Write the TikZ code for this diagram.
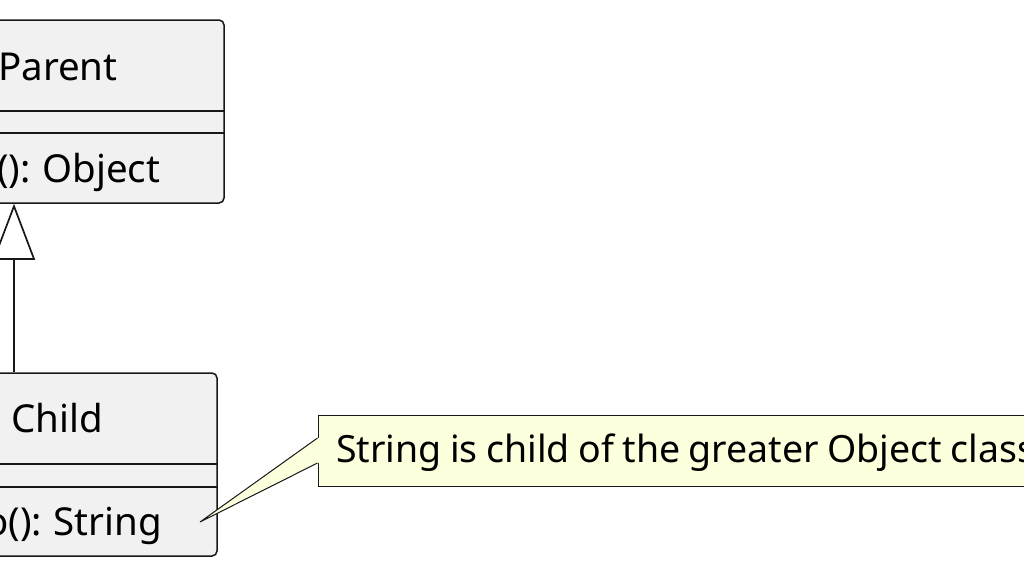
\documentclass[tikz,border=0pt]{standalone}
\usepackage{fontspec}
\setmainfont{Noto Sans}
\usetikzlibrary{arrows.meta,positioning,calc}
\definecolor{classfill}{HTML}{F1F1F1}
\definecolor{umlline}{HTML}{181818}
\definecolor{notefill}{HTML}{FEFFDD}

\begin{document}
\begin{tikzpicture}[x=1pt,y=-1pt]
  \tikzstyle{classbox}=[rectangle, draw=umlline, fill=classfill, line width=1.5pt, rounded corners=5pt, inner sep=0pt, minimum width=284pt, minimum height=183pt]
  \tikzstyle{notebox}=[rectangle, draw=umlline, fill=notefill, line width=1pt, inner sep=0pt]
  \tikzstyle{umltext}=[inner sep=0pt, anchor=base west, font=\fontsize{38.5}{46}\selectfont, text=black]
  \tikzstyle{separator}=[draw=umlline, line width=1.3pt]

  \useasboundingbox (0,0) rectangle (1024,576);
  \clip (0,0) rectangle (1024,576);

  % classes
  \node[classbox] (parent) at (82,111.5) {};
  \node[classbox] (child) at (75,464.5) {};
  \draw[separator] (parent.west |- 0,111) -- (parent.east |- 0,111);
  \draw[separator] (parent.west |- 0,133) -- (parent.east |- 0,133);
  \draw[separator] (child.west |- 0,464) -- (child.east |- 0,464);
  \draw[separator] (child.west |- 0,487) -- (child.east |- 0,487);

  \node[umltext] (parentname) at (-2,80) {Parent};
  \node[umltext] (parentop) at (-3,182) {():\kern-1.5pt{} Object};
  \node[umltext] (childname) at (11,432) {Child};
  \node[umltext] (childop) at (-15,535) {o():\kern-1.5pt{} String};

  % generalization
  \coordinate (gen) at (14,0);
  \draw[umlline, line width=1.7pt, -{Triangle[open, length=56pt, width=42pt]}] (child.north -| gen) -- (parent.south -| gen);

  % note
  \node[notebox, minimum width=742pt, minimum height=71pt] (note) at (689,450.5) {};
  \coordinate (tip) at (200,522);
  \fill[notefill] ($(note.west)+(2,-12.5)$) -- ($(note.west)+(0,-12.5)$) -- (tip) -- ($(note.west)+(0,12.5)$) -- ($(note.west)+(2,12.5)$) -- cycle;
  \draw[umlline, line width=1pt] ($(note.west)+(0,-12.5)$) -- (tip) -- ($(note.west)+(0,12.5)$);
  \node[umltext, font=\fontsize{37.5}{46}\selectfont] (notetext) at (336,462) {\spaceskip=8.5pt\relax String is child of the greater Object class};
\end{tikzpicture}
\end{document}
